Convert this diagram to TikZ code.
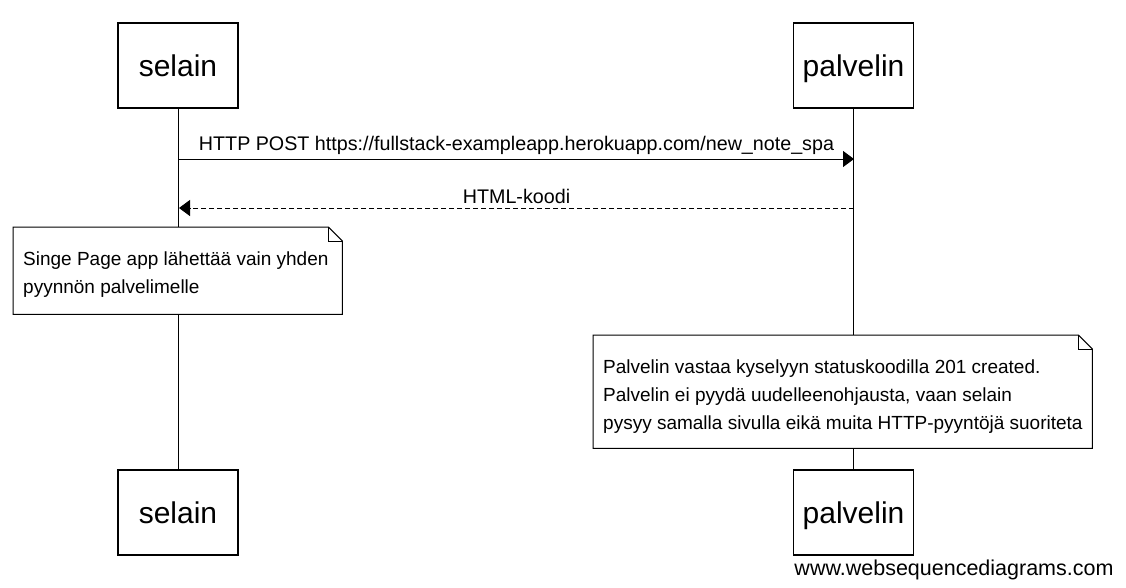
\documentclass[tikz,border=0pt]{standalone}
\usepackage{fontspec}
\setmainfont{Liberation Sans}
\usetikzlibrary{arrows.meta}
\tikzset{
  actor/.style={draw=black, line width=1.2pt, fill=white, minimum width=120pt, minimum height=85pt, inner sep=0pt, text height=24pt, text depth=2pt, font=\fontsize{30}{34}\selectfont},
  lifeline/.style={draw=black, line width=1pt},
  msg/.style={draw=black, line width=1pt, -{Triangle[length=11pt,width=16pt]}},
  reply/.style={msg, dash pattern=on 5pt off 3pt},
  msglabel/.style={font=\fontsize{19.7}{23}\selectfont, inner sep=3.5pt},
  notebox/.style={inner sep=0pt, anchor=north west},
  notetext/.style={inner sep=0pt, align=left, anchor=west, font=\fontsize{19}{28}\selectfont},
  noteline/.style={draw=black, line width=1pt},
}
\newcommand{\drawnote}[1]{%
  \fill[white] (#1.north west) -- ([xshift=-14pt]#1.north east) -- ([yshift=-14pt]#1.north east) -- (#1.south east) -- (#1.south west) -- cycle;
  \draw[noteline] (#1.north west) -- ([xshift=-14pt]#1.north east) -- ([yshift=-14pt]#1.north east) -- (#1.south east) -- (#1.south west) -- cycle;
  \draw[noteline] ([xshift=-14pt]#1.north east) |- ([yshift=-14pt]#1.north east);
}
\begin{document}
\begin{tikzpicture}[x=1pt,y=-1pt]
\useasboundingbox (0,0) rectangle (1126,587);
% actors
\node[actor] (selTop) at (178,65.5) {selain};
\node[actor] (palTop) at (853.5,65.5) {palvelin};
\node[actor] (selBot) at (178,512.5) {selain};
\node[actor] (palBot) at (853.5,512.5) {palvelin};
% lifelines
\draw[lifeline] (selTop.south) -- (selBot.north);
\draw[lifeline] (palTop.south) -- (palBot.north);
% messages
\coordinate (m1a) at (179,159);
\coordinate (m1b) at (854,159);
\coordinate (m2a) at (854,208);
\coordinate (m2b) at (179,208);
\draw[msg] (m1a) -- node[msglabel, above] {HTTP POST https://fullstack-exampleapp.herokuapp.com/new\_note\_spa} (m1b);
\draw[reply] (m2a) -- node[msglabel, above] {HTML-koodi} (m2b);
% note 1
\node[notebox, minimum width=329pt, minimum height=87pt] (n1) at (13,227) {};
\drawnote{n1}
\node[notetext] (n1text) at (23,275) {Singe Page app lähettää vain yhden\\pyynnön palvelimelle};
% note 2
\node[notebox, minimum width=499pt, minimum height=113pt] (n2) at (593,335) {};
\drawnote{n2}
\node[notetext] (n2text) at (603,397) {Palvelin vastaa kyselyyn statuskoodilla 201 created.\\Palvelin ei pyydä uudelleenohjausta, vaan selain\\pysyy samalla sivulla eikä muita HTTP-pyyntöjä suoriteta};
% watermark
\node[font=\fontsize{21.5}{24}\selectfont, inner sep=0pt] (wm) at (954,570) {www.websequencediagrams.com};
\end{tikzpicture}
\end{document}
